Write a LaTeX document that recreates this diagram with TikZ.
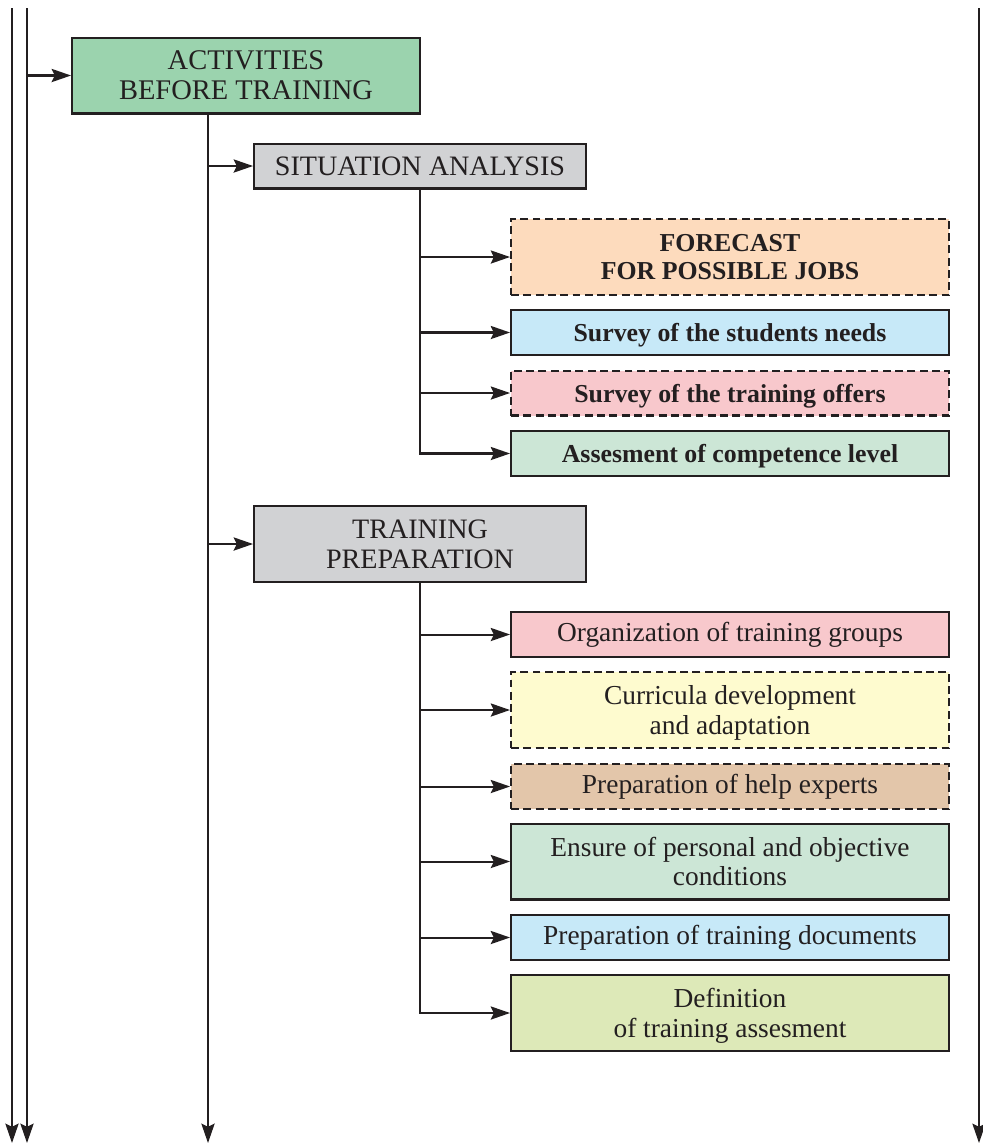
\documentclass[tikz,border=0pt]{standalone}
\usepackage{fontspec}
\setmainfont{Liberation Serif}
\usetikzlibrary{arrows.meta}

\definecolor{ink}{HTML}{231F20}
\definecolor{cGreen}{HTML}{9BD3AE}
\definecolor{cGray}{HTML}{D1D2D4}
\definecolor{cPeach}{HTML}{FDDBBD}
\definecolor{cBlue}{HTML}{C7E9F8}
\definecolor{cPink}{HTML}{F8C8CC}
\definecolor{cMint}{HTML}{CCE6D6}
\definecolor{cYellow}{HTML}{FEFBCF}
\definecolor{cTan}{HTML}{E3C6AA}
\definecolor{cLime}{HTML}{DDE9B8}

\tikzset{
  box/.style={draw=ink, line width=1.15pt, align=center, text=ink, inner sep=2pt,
    font=\fontsize{15.6}{16.8}\selectfont},
  head/.style={box, minimum width=6.64cm, font=\fontsize{16}{17}\selectfont},
  item/.style={box, minimum width=8.76cm},
  hi/.style={minimum height=1.52cm},
  lo/.style={minimum height=0.9cm},
  nodp/.style={text depth=0pt},
  dsh/.style={dash pattern=on 4.5pt off 2.5pt},
  bf/.style={font=\fontsize{14.7}{15.5}\selectfont\bfseries},
  arr/.style={draw=ink, line width=1.15pt,
    -{Stealth[length=11pt, width=7.5pt, inset=1.8pt]}},
}

\begin{document}
\begin{tikzpicture}[x=0.02cm, y=-0.02cm]
\useasboundingbox (0,0) rectangle (983,1147);

% top-level box and group headers
\node[box, fill=cGreen, minimum width=6.96cm, hi, font=\fontsize{16.2}{17}\selectfont] (act) at (246,75.5)
  {ACTIVITIES\\BEFORE TRAINING};
\node[head, fill=cGray, lo] (sa) at (420,166) {SITUATION ANALYSIS};
\node[head, fill=cGray, hi] (tp) at (420,544) {TRAINING\\PREPARATION};

% situation analysis items
\node[item, fill=cPeach, hi, dsh, bf] (fc) at (730,257) {FORECAST\\FOR POSSIBLE JOBS};
\node[item, fill=cBlue, lo, bf, nodp] (ss) at (730,332.5) {Survey of the students needs};
\node[item, fill=cPink, lo, dsh, bf, nodp] (so) at (730,393) {Survey of the training offers};
\node[item, fill=cMint, lo, bf, nodp] (ac) at (730,453.5) {Assesment of competence level};

% training preparation items
\node[item, fill=cPink, lo] (og) at (730,634.5) {Organization of training groups};
\node[item, fill=cYellow, hi, dsh, nodp] (cd) at (730,710) {Curricula development\\and adaptation};
\node[item, fill=cTan, lo, dsh] (he) at (730,786.5) {Preparation of help experts};
\node[item, fill=cMint, hi] (en) at (730,861.5) {Ensure of personal and objective\\conditions};
\node[item, fill=cBlue, lo] (td) at (730,937.5) {Preparation of training documents};
\node[item, fill=cLime, hi, nodp] (de) at (730,1013) {Definition\\of training assesment};

% long vertical flow lines
\coordinate (l1t) at (12,8);   \coordinate (l1b) at (12,1143);
\coordinate (l2t) at (27,8);   \coordinate (l2b) at (27,1143);
\coordinate (rt)  at (979,8);  \coordinate (rb)  at (979,1143);
\coordinate (sb)  at (208,1143);

\draw[arr] (l1t) -- (l1b);
\draw[arr] (l2t) -- (l2b);
\draw[arr] (rt) -- (rb);
\draw[arr] (act.west -| l2t) -- (act.west);

% spine below the top-level box
\draw[arr] (act.south -| sb) -- (sb);
\draw[arr] (sa.west -| sb) -- (sa.west);
\draw[arr] (tp.west -| sb) -- (tp.west);

% situation analysis branches
\draw[arr] (sa.south) |- (ac.west);
\foreach \n in {fc,ss,so} \draw[arr] (sa.south |- \n.west) -- (\n.west);

% training preparation branches
\draw[arr] (tp.south) |- (de.west);
\foreach \n in {og,cd,he,en,td} \draw[arr] (tp.south |- \n.west) -- (\n.west);
\end{tikzpicture}
\end{document}
